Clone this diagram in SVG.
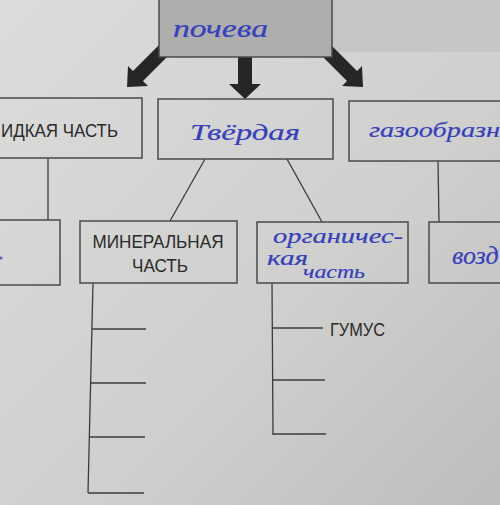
<svg xmlns="http://www.w3.org/2000/svg" width="500" height="505" viewBox="0 0 500 505">
  <defs>
    <linearGradient id="paper" x1="0" y1="0" x2="1" y2="1">
      <stop offset="0" stop-color="#dcdcda"/>
      <stop offset="0.6" stop-color="#cfcfcd"/>
      <stop offset="1" stop-color="#bdbdbb"/>
    </linearGradient>
    <style>
      .box { fill: none; stroke: #4a4a4a; stroke-width: 1.5; }
      .line { fill: none; stroke: #3c3c3c; stroke-width: 1.3; }
      .arrow { fill: #262626; }
      .print { font-family: "Liberation Sans", "DejaVu Sans", sans-serif; font-size: 18px; fill: #2a2a2a; }
      .hand { font-family: "Liberation Serif", "DejaVu Serif", serif; font-style: italic; fill: #3540bd; stroke: #3540bd; stroke-width: 0.2; }
    </style>
  </defs>

  <rect x="0" y="0" width="500" height="505" fill="url(#paper)"/>
  <rect x="332" y="0" width="168" height="52" fill="#c6c6c4"/>

  <g id="connectors">
    <polygon class="arrow" points="175,49 165,39 133,71 128,66 127,87 148,86 143,81"/>
    <polygon class="arrow" points="238,50 252,50 252,84 261,84 245,99 229,84 238,84"/>
    <polygon class="arrow" points="315,49 325,39 357,71 362,66 363,87 342,86 347,81"/>
    <line class="line" x1="48" y1="158" x2="48" y2="220"/>
    <line class="line" x1="205" y1="159" x2="170" y2="221"/>
    <line class="line" x1="287" y1="159" x2="322" y2="222"/>
    <line class="line" x1="438" y1="161" x2="439" y2="222"/>
    <line class="line" x1="93" y1="283" x2="88" y2="493"/>
    <line class="line" x1="92" y1="329" x2="146" y2="329"/>
    <line class="line" x1="91" y1="383" x2="146" y2="383"/>
    <line class="line" x1="89" y1="437" x2="145" y2="437"/>
    <line class="line" x1="88" y1="493" x2="144" y2="493"/>
    <line class="line" x1="272" y1="283" x2="273" y2="435"/>
    <line class="line" x1="272" y1="328" x2="323" y2="328"/>
    <line class="line" x1="272" y1="380" x2="325" y2="380"/>
    <line class="line" x1="273" y1="434" x2="326" y2="434"/>
  </g>

  <g id="soil">
    <rect x="159" y="-2" width="173" height="59" fill="#aeaeac" stroke="#4a4a4a" stroke-width="1.5"/>
    <text class="hand" x="173" y="37" font-size="26" textLength="95" lengthAdjust="spacingAndGlyphs">почева</text>
  </g>

  <g id="liquid">
    <rect class="box" x="-5" y="98" width="147" height="60"/>
    <text class="print" x="1" y="137" textLength="117" lengthAdjust="spacingAndGlyphs">ИДКАЯ  ЧАСТЬ</text>
  </g>

  <g id="solid">
    <rect class="box" x="158" y="99" width="175" height="60"/>
    <text class="hand" x="190" y="140" font-size="24" textLength="110" lengthAdjust="spacingAndGlyphs">Твёрдая</text>
  </g>

  <g id="gaseous">
    <rect class="box" x="349" y="101" width="160" height="60"/>
    <text class="hand" x="369" y="137" font-size="22" textLength="131" lengthAdjust="spacingAndGlyphs">газообразн</text>
  </g>

  <g id="liquid-sub">
    <rect class="box" x="-5" y="220" width="65" height="65"/>
    <circle cx="1" cy="258" r="1.5" fill="#5a5ad0"/>
  </g>

  <g id="mineral">
    <rect class="box" x="80" y="221" width="157" height="62"/>
    <text class="print" x="158" y="248" text-anchor="middle" textLength="131" lengthAdjust="spacingAndGlyphs">МИНЕРАЛЬНАЯ</text>
    <text class="print" x="160" y="272" text-anchor="middle" textLength="56" lengthAdjust="spacingAndGlyphs">ЧАСТЬ</text>
  </g>

  <g id="organic">
    <rect class="box" x="257" y="222" width="151" height="61"/>
    <text class="hand" x="273" y="243" font-size="20" textLength="130" lengthAdjust="spacingAndGlyphs">органичес-</text>
    <text class="hand" x="267" y="265" font-size="20" textLength="41" lengthAdjust="spacingAndGlyphs">кая</text>
    <text class="hand" x="303" y="278" font-size="18" textLength="62" lengthAdjust="spacingAndGlyphs">часть</text>
  </g>

  <g id="air">
    <rect class="box" x="429" y="222" width="80" height="61"/>
    <text class="hand" x="452" y="264" font-size="26">возд</text>
  </g>

  <g id="humus">
    <text class="print" x="330" y="336" textLength="55" lengthAdjust="spacingAndGlyphs">ГУМУС</text>
  </g>
</svg>
